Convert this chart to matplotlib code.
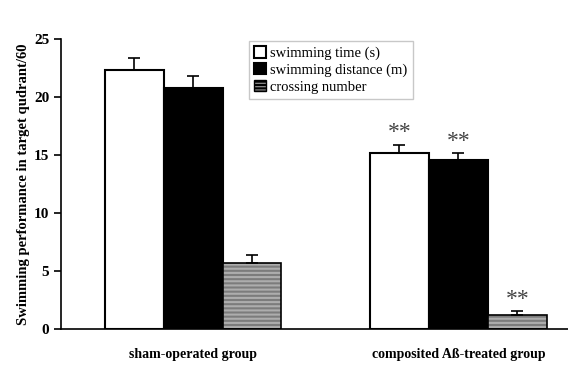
import numpy as np
import matplotlib
matplotlib.use("Agg")
import matplotlib.pyplot as plt
from matplotlib.patches import Patch

# data
groups = ["sham-operated group", "composited A\u00df-treated group"]
series = ["swimming time (s)", "swimming distance (m)", "crossing number"]
time_vals = [22.3, 15.2]
time_err = [1.1, 0.7]
dist_vals = [20.8, 14.6]
dist_err = [1.0, 0.6]
cross_vals = [5.7, 1.2]
cross_err = [0.65, 0.35]
stars = ["", "**"]

plt.rcParams['font.family'] = ['Liberation Serif', 'DejaVu Serif']
plt.rcParams['hatch.linewidth'] = 1.5

fig = plt.figure(figsize=(5.68, 3.84), dpi=100)
ax = fig.add_axes([61/568, 1-329/384, 507/568, 290/384])

centers = np.array([0.0, 4.5])
w = 1.0
vals = [time_vals, dist_vals, cross_vals]
errs = [time_err, dist_err, cross_err]
offs = [-1, 0, 1]

for i in range(3):
    x = centers + offs[i]
    if i == 0:
        ax.bar(x, vals[i], w, color="white", edgecolor="black", lw=1.5, zorder=2)
    elif i == 1:
        ax.bar(x, vals[i], w, color="black", edgecolor="black", lw=1.5, zorder=2)
    else:
        ax.bar(x, vals[i], w, color="#7c7c7c", edgecolor="#adadad", lw=0, hatch="----", zorder=2)
        ax.bar(x, vals[i], w, color="none", edgecolor="black", lw=1.2, zorder=3)
    ax.errorbar(x, vals[i], yerr=[np.zeros(2), errs[i]], fmt="none", ecolor="black",
                elinewidth=1.2, capsize=4, capthick=1.2, zorder=4)
    for j in range(2):
        if stars[j]:
            ax.text(x[j], vals[i][j] + errs[i][j] + 0.1, stars[j], ha="center", va="bottom",
                    fontsize=17, color="#444444")

ax.set_xlim(-2.24, 6.36)
ax.set_ylim(0, 25)
ax.set_yticks([0, 5, 10, 15, 20, 25])
ax.set_xticks(centers)
ax.set_xticklabels(groups, fontweight="bold", fontsize=10)
ax.tick_params(axis="x", length=0, pad=14)
ax.tick_params(axis="y", direction="out", length=5, width=1.2, labelsize=11)
for lab in ax.get_yticklabels():
    lab.set_fontweight("bold")
ax.spines["top"].set_visible(False)
ax.spines["right"].set_visible(False)
ax.spines["left"].set_linewidth(1.2)
ax.spines["bottom"].set_linewidth(1.2)
ax.set_ylabel("Swimming performance in target qudrant/60", fontweight="bold", fontsize=10.5, labelpad=3)

handles = [Patch(facecolor="white", edgecolor="black", lw=1.5),
           Patch(facecolor="black", edgecolor="black", lw=1.5),
           Patch(facecolor="#8c8c8c", edgecolor="black", lw=1.0, hatch="-----")]
leg = fig.legend(handles, series, loc="upper left", bbox_to_anchor=(242/568, 1-34/384),
                 fontsize=10.5, frameon=True, fancybox=False, handlelength=0.8, handleheight=0.8,
                 handletextpad=0.3, borderpad=0.35, labelspacing=0.2)
leg.get_frame().set_edgecolor("#bbbbbb")
leg.get_frame().set_linewidth(1.0)

fig.savefig("out.png", dpi=100)
